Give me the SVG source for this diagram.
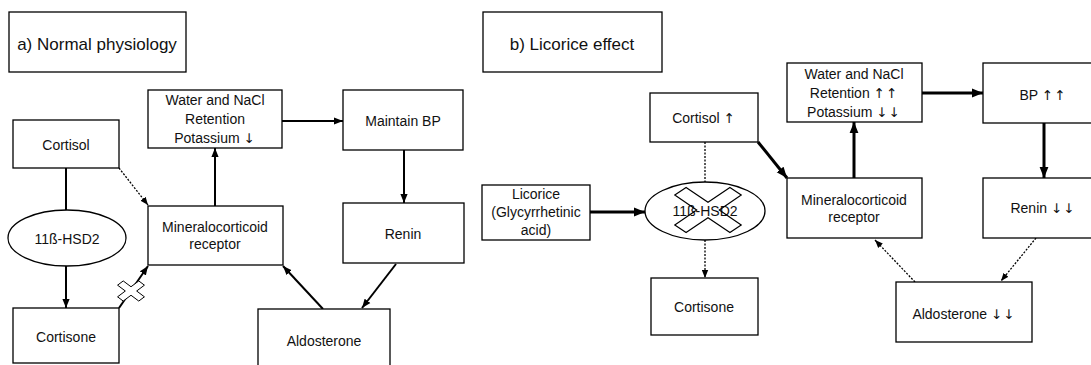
<svg xmlns="http://www.w3.org/2000/svg" width="1091" height="365" viewBox="0 0 1091 365">
<style>
.box{fill:#fff;stroke:#000;stroke-width:1.3}
.t{font-family:"Liberation Sans","DejaVu Sans",sans-serif;font-size:14px;fill:#111;text-anchor:middle}
.ar{font-family:"DejaVu Sans",sans-serif;font-size:13.5px;fill:#111;letter-spacing:1px}
.title{font-size:17px}
.s{stroke:#000;stroke-width:2;fill:none}
.k{stroke:#000;stroke-width:3;fill:none}
.d{stroke:#000;stroke-width:1.3;fill:none;stroke-dasharray:2 1.5}
.xm{fill:none;stroke:#000;stroke-width:1.2}
.g{opacity:0.999}
</style>
<defs>
<marker id="ah" viewBox="0 0 10 8" refX="10" refY="4" markerWidth="9" markerHeight="8" markerUnits="userSpaceOnUse" orient="auto"><path d="M0,0 L10,4 L0,8 z" fill="#000"/></marker>
<marker id="ahk" viewBox="0 0 10 8" refX="10" refY="4" markerWidth="11" markerHeight="10" markerUnits="userSpaceOnUse" orient="auto"><path d="M0,0 L10,4 L0,8 z" fill="#000"/></marker>
<marker id="ahd" viewBox="0 0 10 8" refX="10" refY="4" markerWidth="8" markerHeight="7" markerUnits="userSpaceOnUse" orient="auto"><path d="M0,0 L10,4 L0,8 z" fill="#000"/></marker>
</defs>
<rect width="1091" height="365" fill="#fff"/>

<g id="connectors">
<line class="s" x1="66" y1="168" x2="66" y2="210"/>
<line class="s" x1="66" y1="266" x2="66" y2="308" marker-end="url(#ah)"/>
<line class="d" x1="119" y1="168" x2="148" y2="205" marker-end="url(#ahd)"/>
<line class="s" x1="215" y1="206" x2="215" y2="148" marker-end="url(#ah)"/>
<line class="s" x1="282" y1="121" x2="343" y2="121" marker-end="url(#ah)"/>
<line class="s" x1="404" y1="150" x2="404" y2="203" marker-end="url(#ah)"/>
<line class="s" x1="396" y1="264" x2="362" y2="308" marker-end="url(#ah)"/>
<line class="s" x1="323" y1="309" x2="283" y2="266" marker-end="url(#ah)"/>
<line class="s" x1="119" y1="308" x2="148" y2="266" marker-end="url(#ah)"/>
<line class="k" x1="590" y1="212" x2="645" y2="212" marker-end="url(#ahk)"/>
<line class="d" x1="705" y1="142" x2="705" y2="182"/>
<line class="d" x1="705" y1="240" x2="705" y2="278" marker-end="url(#ahd)"/>
<line class="k" x1="758" y1="142" x2="787" y2="178" marker-end="url(#ahk)"/>
<line class="k" x1="854" y1="178" x2="854" y2="122" marker-end="url(#ahk)"/>
<line class="k" x1="922" y1="93" x2="983" y2="93" marker-end="url(#ahk)"/>
<line class="k" x1="1044" y1="123" x2="1044" y2="178" marker-end="url(#ahk)"/>
<line class="d" x1="1036" y1="238" x2="1001" y2="281" marker-end="url(#ahd)"/>
<line class="d" x1="915" y1="282" x2="875" y2="240" marker-end="url(#ahd)"/>
</g>

<g id="block-a">
<polygon transform="translate(131,291) scale(1,0.75) rotate(45)" points="-4,-15 4,-15 4,-4 15,-4 15,4 4,4 4,15 -4,15 -4,4 -15,4 -15,-4 -4,-4" fill="#fff" stroke="#000" stroke-width="1" vector-effect="non-scaling-stroke"/>
</g>

<g id="title-a"><rect class="box" x="9" y="12" width="177" height="60"/><text class="t title" x="97" y="50">a) Normal physiology</text></g>
<g id="water-a"><rect class="box" x="148" y="90" width="134" height="58"/><text class="t" x="215" y="105">Water and NaCl</text><text class="t" x="215" y="124">Retention</text><text class="t g" x="215" y="143">Potassium <tspan class="ar">↓</tspan></text></g>
<g id="bp-a"><rect class="box" x="343" y="90" width="120" height="60"/><text class="t" x="403" y="126">Maintain BP</text></g>
<g id="cortisol-a"><rect class="box" x="13" y="120" width="106" height="48"/><text class="t" x="66" y="150">Cortisol</text></g>
<g id="mr-a"><rect class="box" x="148" y="206" width="135" height="59"/><text class="t" x="215" y="232">Mineralocorticoid</text><text class="t" x="215" y="249">receptor</text></g>
<g id="hsd-a"><ellipse class="box" cx="67" cy="238" rx="59" ry="28"/><text class="t" x="67" y="244">11ß-HSD2</text></g>
<g id="cortisone-a"><rect class="box" x="13" y="308" width="106" height="55"/><text class="t" x="66" y="342">Cortisone</text></g>
<g id="renin-a"><rect class="box" x="343" y="203" width="121" height="60"/><text class="t" x="403" y="239">Renin</text></g>
<g id="aldo-a"><rect class="box" x="258" y="309" width="132" height="70"/><text class="t" x="324" y="346">Aldosterone</text></g>

<g id="title-b"><rect class="box" x="483" y="12" width="179" height="60"/><text class="t title" x="572" y="50">b) Licorice effect</text></g>
<g id="cortisol-b"><rect class="box" x="650" y="93" width="108" height="49"/><text class="t g" x="704" y="123">Cortisol <tspan class="ar">↑</tspan></text></g>
<g id="water-b"><rect class="box" x="787" y="63" width="135" height="59"/><text class="t" x="854" y="79">Water and NaCl</text><text class="t g" x="854" y="98">Retention <tspan class="ar">↑↑</tspan></text><text class="t g" x="854" y="117">Potassium <tspan class="ar">↓↓</tspan></text></g>
<g id="bp-b"><rect class="box" x="983" y="63" width="115" height="60"/><text class="t g" x="1043" y="100">BP <tspan class="ar">↑↑</tspan></text></g>
<g id="licorice-b"><rect class="box" x="482" y="185" width="108" height="55"/><text class="t" x="536" y="199">Licorice</text><text class="t" x="536" y="217">(Glycyrrhetinic</text><text class="t" x="536" y="235">acid)</text></g>
<g id="hsd-b"><ellipse class="box" cx="705" cy="211" rx="60" ry="29"/><text class="t" x="705" y="216">11ß-HSD2</text>
<polygon transform="translate(708,210) scale(1,0.68) rotate(45)" points="-8,-39 8,-39 8,-8 39,-8 39,8 8,8 8,39 -8,39 -8,8 -39,8 -39,-8 -8,-8" class="xm" vector-effect="non-scaling-stroke"/></g>
<g id="cortisone-b"><rect class="box" x="651" y="278" width="107" height="57"/><text class="t" x="704" y="312">Cortisone</text></g>
<g id="mr-b"><rect class="box" x="787" y="178" width="135" height="60"/><text class="t" x="854" y="205">Mineralocorticoid</text><text class="t" x="854" y="222">receptor</text></g>
<g id="renin-b"><rect class="box" x="983" y="178" width="115" height="60"/><text class="t g" x="1043" y="213">Renin <tspan class="ar">↓↓</tspan></text></g>
<g id="aldo-b"><rect class="box" x="896" y="282" width="136" height="60"/><text class="t g" x="964" y="319">Aldosterone <tspan class="ar">↓↓</tspan></text></g>
</svg>
